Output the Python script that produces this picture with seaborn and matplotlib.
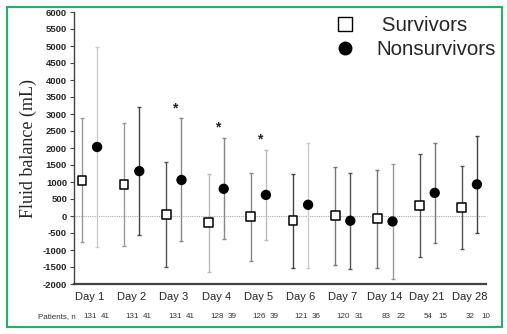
import matplotlib
matplotlib.use("Agg")
import matplotlib.pyplot as plt
import matplotlib.transforms as mtransforms
import seaborn as sns
import pandas as pd
from matplotlib.patches import Rectangle
from matplotlib.lines import Line2D

days = ['Day 1', 'Day 2', 'Day 3', 'Day 4', 'Day 5', 'Day 6', 'Day 7', 'Day 14', 'Day 21', 'Day 28']
surv_mean = [1040, 920, 50, -200, -20, -140, 10, -70, 320, 240]
surv_upper = [2880, 2730, 1590, 1240, 1260, 1240, 1450, 1350, 1820, 1480]
surv_lower = [-760, -880, -1490, -1660, -1310, -1530, -1440, -1520, -1200, -980]
non_mean = [2030, 1320, 1060, 800, 620, 330, -140, -160, 680, 930]
non_upper = [4980, 3210, 2870, 2290, 1950, 2160, 1270, 1530, 2150, 2350]
non_lower = [-900, -550, -730, -670, -700, -1530, -1550, -1850, -790, -500]
surv_n = [131, 131, 131, 128, 126, 121, 120, 83, 54, 32]
non_n = [41, 41, 41, 39, 39, 36, 31, 22, 15, 10]
significant = [False, False, True, True, True, False, False, False, False, False]

surv_err_colors = ['#999999', '#999999', '#555555', '#bbbbbb', '#888888',
                   '#444444', '#777777', '#777777', '#555555', '#555555']
non_err_colors = ['#cccccc', '#444444', '#888888', '#888888', '#bbbbbb',
                  '#cccccc', '#555555', '#999999', '#777777', '#444444']

sns.set_style('white')
plt.rcParams['font.family'] = ['Liberation Sans', 'DejaVu Sans']

off = 0.18
rows = []
for i, d in enumerate(days):
    rows.append(dict(x=i - off, y=surv_mean[i], group='Survivors'))
for i, d in enumerate(days):
    rows.append(dict(x=i + off, y=non_mean[i], group='Nonsurvivors'))
df = pd.DataFrame(rows)

fig = plt.figure(figsize=(5.07, 3.34), dpi=100)
ax = fig.add_axes([74 / 507, 1 - 284 / 334, (486 - 74) / 507, (284 - 12) / 334])

# zero reference line
ax.axhline(0, color='#aaaaaa', lw=0.8, ls=(0, (1, 1)), zorder=1)

# error bars
for i in range(len(days)):
    xs = i - off
    ax.errorbar([xs], [surv_mean[i]],
                yerr=[[surv_mean[i] - surv_lower[i]], [surv_upper[i] - surv_mean[i]]],
                fmt='none', ecolor=surv_err_colors[i], elinewidth=1.0, capsize=1.6,
                capthick=1.0, zorder=2)
    xn = i + off
    ax.errorbar([xn], [non_mean[i]],
                yerr=[[non_mean[i] - non_lower[i]], [non_upper[i] - non_mean[i]]],
                fmt='none', ecolor=non_err_colors[i], elinewidth=1.0, capsize=1.6,
                capthick=1.0, zorder=2)
    if significant[i]:
        ax.text(xn - 0.15, non_upper[i] + 100, '*', ha='center', va='bottom',
                fontsize=10, fontweight='bold', color='#222222')

sns.scatterplot(data=df, x='x', y='y', style='group', hue='group',
                markers={'Survivors': 's', 'Nonsurvivors': 'o'},
                palette={'Survivors': 'white', 'Nonsurvivors': 'black'},
                edgecolor='black', linewidth=1.1, s=40, ax=ax, zorder=3, legend=False)

ax.set_xlim(-0.367, 9.395)
ax.set_ylim(-2000, 6000)
ax.set_yticks(range(-2000, 6001, 500))
ax.set_yticklabels([str(v) for v in range(-2000, 6001, 500)], fontsize=6.8, fontweight='bold')
ax.set_xticks(range(len(days)))
ax.set_xticklabels(days, fontsize=8)
ax.tick_params(axis='x', length=0, pad=6)
ax.tick_params(axis='y', length=3, width=0.8, color='#444444', direction='out', pad=2, left=True)
ax.set_xlabel('')
ax.set_ylabel('Fluid balance (mL)', fontsize=13, family=['Liberation Serif', 'DejaVu Serif'], labelpad=4)

for s in ['top', 'right']:
    ax.spines[s].set_visible(False)
ax.spines['left'].set_color('#444444')
ax.spines['left'].set_linewidth(1.0)
ax.spines['bottom'].set_color('#444444')
ax.spines['bottom'].set_linewidth(1.6)

# patients row
row_y = 1 - 317 / 334
fig.text(57 / 507, row_y, 'Patients, n', fontsize=5.8, ha='center', va='center', color='#333333')
trans = mtransforms.blended_transform_factory(ax.transData, fig.transFigure)
for i in range(len(days)):
    ax.text(i - off + 0.2, row_y, str(surv_n[i]), transform=trans,
            fontsize=5.8, ha='center', va='center', color='#333333')
    ax.text(i + off + 0.2, row_y, str(non_n[i]), transform=trans,
            fontsize=5.8, ha='center', va='center', color='#333333')

# legend
handles = [Line2D([], [], ls='none', marker='s', markersize=10.5, markerfacecolor='white',
                  markeredgecolor='black', markeredgewidth=1.0, label=' Survivors'),
           Line2D([], [], ls='none', marker='o', markersize=9, markerfacecolor='black',
                  markeredgecolor='black', label='Nonsurvivors')]
leg = fig.legend(handles=handles, loc='upper right', bbox_to_anchor=(510 / 507, 1 - 2 / 334),
                 frameon=False, fontsize=14.8, handletextpad=1.0, labelspacing=0.22,
                 borderpad=0.2, handlelength=1.0)

# green border
fig.patches.append(Rectangle((7 / 507, 7 / 334), (502 - 7) / 507, (327 - 7) / 334,
                             transform=fig.transFigure, fill=False, edgecolor='#00b050',
                             linewidth=1.3, zorder=10))

fig.savefig('out.png', dpi=100)
